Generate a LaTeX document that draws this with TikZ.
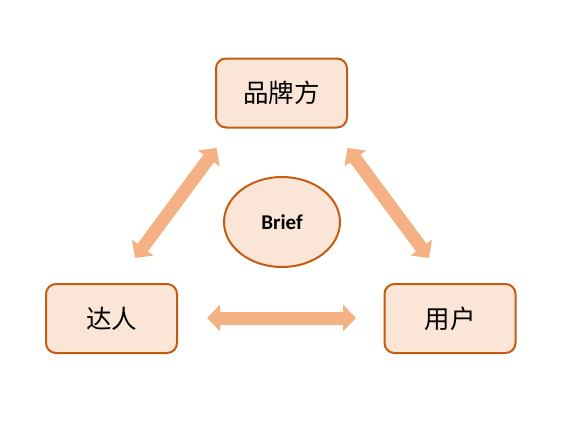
\documentclass[tikz,border=0pt]{standalone}
\usepackage{fontspec}
\setmainfont{Carlito}
\newfontfamily\cjk{Noto Sans CJK SC}
\usetikzlibrary{arrows.meta}
\usetikzlibrary{shapes.geometric}
\definecolor{boxfill}{HTML}{FBE5D6}
\definecolor{boxline}{HTML}{C55A11}
\definecolor{linkcol}{HTML}{F4B183}
\tikzset{
  role/.style={draw=boxline,fill=boxfill,line width=2pt,rounded corners=10pt,
    minimum width=131pt,minimum height=69pt,font=\cjk\fontsize{25.5}{30}\selectfont},
  core/.style={ellipse,draw=boxline,fill=boxfill,line width=2pt,
    minimum width=116pt,minimum height=90pt,font=\bfseries\fontsize{21}{24}\selectfont},
  link/.style={draw=linkcol,line width=13pt,
    {Triangle[width=26pt,length=13pt]}-{Triangle[width=26pt,length=13pt]}}
}
\begin{document}
\begin{tikzpicture}[x=1pt,y=-1pt]
\useasboundingbox (0,0) rectangle (576,432);
\draw (281.5,93) node[role](brand) {品牌方} ;
\draw (111.5,318.5) node[role](kol) {达人} ;
\draw (450,318.5) node[role](user) {用户} ;
\draw (282,222) node[core](brief) {Brief} ;

\coordinate (bl) at (216.5,148);
\coordinate (kb) at (135,258);
\coordinate (br) at (347.5,148);
\coordinate (ub) at (429,258);
\coordinate (ku) at (207,318);
\coordinate (uk) at (356,318);

\draw[link] (bl) -- (kb);
\draw[link] (br) -- (ub);
\draw[link] (ku) -- (uk);
\end{tikzpicture}
\end{document}
